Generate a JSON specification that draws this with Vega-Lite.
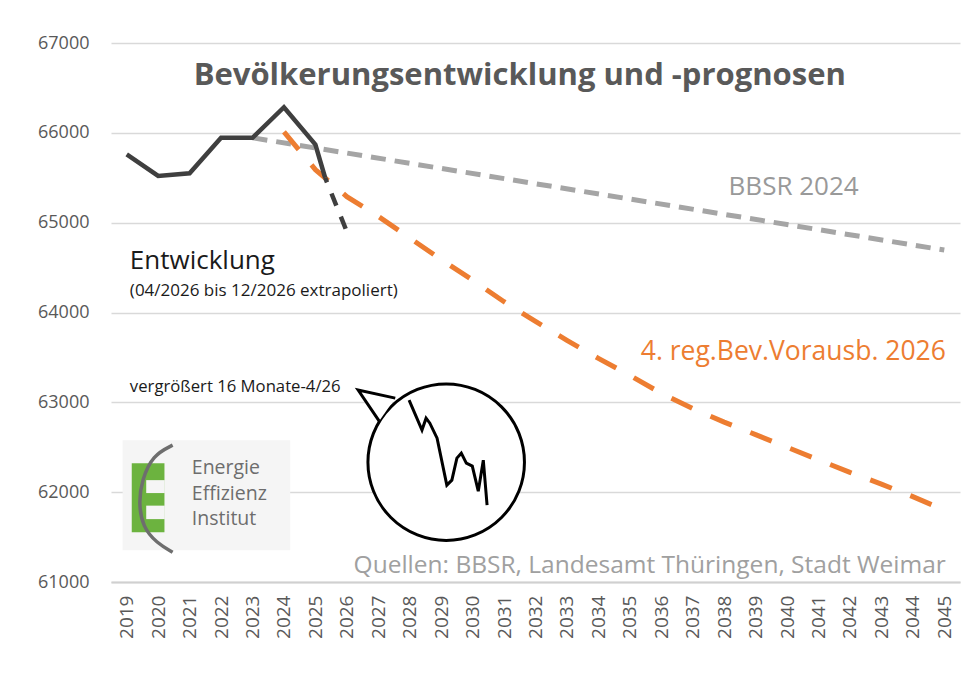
{
  "$schema": "https://vega.github.io/schema/vega-lite/v6.json",
  "width": 849,
  "height": 539,
  "autosize": {"type": "none"},
  "padding": {"left": 111, "top": 43, "right": 14, "bottom": 100},
  "background": "white",
  "config": {
    "view": {"stroke": null},
    "font": "Open Sans",
    "axis": {"labelFont": "Open Sans", "labelColor": "#595959"}
  },
  "datasets": {
    "lines": [
      {"series": "Entwicklung", "year": 2019, "value": 65760},
      {"series": "Entwicklung", "year": 2020, "value": 65520},
      {"series": "Entwicklung", "year": 2021, "value": 65550},
      {"series": "Entwicklung", "year": 2022, "value": 65945},
      {"series": "Entwicklung", "year": 2023, "value": 65945},
      {"series": "Entwicklung", "year": 2024, "value": 66285},
      {"series": "Entwicklung", "year": 2025, "value": 65870},
      {"series": "Entwicklung", "year": 2025.31, "value": 65500},
      {"series": "Extrapoliert", "year": 2025.31, "value": 65500},
      {"series": "Extrapoliert", "year": 2026, "value": 64900},
      {"series": "BBSR 2024", "year": 2023, "value": 65945},
      {"series": "BBSR 2024", "year": 2045, "value": 64695},
      {"series": "4. reg.Bev.Vorausb. 2026", "year": 2024, "value": 66010},
      {"series": "4. reg.Bev.Vorausb. 2026", "year": 2025, "value": 65590},
      {"series": "4. reg.Bev.Vorausb. 2026", "year": 2026, "value": 65290},
      {"series": "4. reg.Bev.Vorausb. 2026", "year": 2027, "value": 65070},
      {"series": "4. reg.Bev.Vorausb. 2026", "year": 2028, "value": 64830},
      {"series": "4. reg.Bev.Vorausb. 2026", "year": 2029, "value": 64590},
      {"series": "4. reg.Bev.Vorausb. 2026", "year": 2030, "value": 64360},
      {"series": "4. reg.Bev.Vorausb. 2026", "year": 2031, "value": 64120},
      {"series": "4. reg.Bev.Vorausb. 2026", "year": 2032, "value": 63900},
      {"series": "4. reg.Bev.Vorausb. 2026", "year": 2033, "value": 63690},
      {"series": "4. reg.Bev.Vorausb. 2026", "year": 2034, "value": 63490},
      {"series": "4. reg.Bev.Vorausb. 2026", "year": 2035, "value": 63300},
      {"series": "4. reg.Bev.Vorausb. 2026", "year": 2036, "value": 63100},
      {"series": "4. reg.Bev.Vorausb. 2026", "year": 2037, "value": 62930},
      {"series": "4. reg.Bev.Vorausb. 2026", "year": 2038, "value": 62780},
      {"series": "4. reg.Bev.Vorausb. 2026", "year": 2039, "value": 62640},
      {"series": "4. reg.Bev.Vorausb. 2026", "year": 2040, "value": 62500},
      {"series": "4. reg.Bev.Vorausb. 2026", "year": 2041, "value": 62360},
      {"series": "4. reg.Bev.Vorausb. 2026", "year": 2042, "value": 62220},
      {"series": "4. reg.Bev.Vorausb. 2026", "year": 2043, "value": 62090},
      {"series": "4. reg.Bev.Vorausb. 2026", "year": 2044, "value": 61950},
      {"series": "4. reg.Bev.Vorausb. 2026", "year": 2045, "value": 61800}
    ],
    "inset": [
      {"i": 1, "year": 2027.98, "value": 63025},
      {"i": 2, "year": 2028.39, "value": 62691},
      {"i": 3, "year": 2028.52, "value": 62824},
      {"i": 4, "year": 2028.64, "value": 62768},
      {"i": 5, "year": 2028.87, "value": 62601},
      {"i": 6, "year": 2029.18, "value": 62078},
      {"i": 7, "year": 2029.34, "value": 62134},
      {"i": 8, "year": 2029.5, "value": 62379},
      {"i": 9, "year": 2029.64, "value": 62434},
      {"i": 10, "year": 2029.8, "value": 62323},
      {"i": 11, "year": 2029.99, "value": 62290},
      {"i": 12, "year": 2030.18, "value": 62011},
      {"i": 13, "year": 2030.34, "value": 62356},
      {"i": 14, "year": 2030.46, "value": 61855}
    ],
    "tail": [
      {"i": 1, "year": 2027.03, "value": 62791},
      {"i": 2, "year": 2026.36, "value": 63136},
      {"i": 3, "year": 2027.54, "value": 63047}
    ],
    "arc": [
      {"i": 1, "year": 2020.46, "value": 62523},
      {"i": 2, "year": 2019.83, "value": 62412},
      {"i": 3, "year": 2019.48, "value": 62134},
      {"i": 4, "year": 2019.38, "value": 61878},
      {"i": 5, "year": 2019.51, "value": 61610},
      {"i": 6, "year": 2019.96, "value": 61432},
      {"i": 7, "year": 2020.46, "value": 61332}
    ],
    "labels": [
      {"label": "Bevölkerungsentwicklung und -prognosen", "kind": "title", "year": 2031.5, "value": 66635},
      {"label": "BBSR 2024", "kind": "bbsr", "year": 2038.14, "value": 65396},
      {"label": "4. reg.Bev.Vorausb. 2026", "kind": "reg", "year": 2045.05, "value": 63559},
      {"label": "Entwicklung", "kind": "big", "year": 2019.1, "value": 64572},
      {"label": "(04/2026 bis 12/2026 extrapoliert)", "kind": "small", "year": 2019.1, "value": 64238},
      {"label": "vergrößert 16 Monate-4/26", "kind": "small2", "year": 2019.1, "value": 63169},
      {"label": "Quellen: BBSR, Landesamt Thüringen, Stadt Weimar", "kind": "source", "year": 2045.05, "value": 61176},
      {"label": "Energie", "kind": "logo", "year": 2021.07, "value": 62265},
      {"label": "Effizienz", "kind": "logo", "year": 2021.07, "value": 61985},
      {"label": "Institut", "kind": "logo", "year": 2021.07, "value": 61705}
    ],
    "boxes": [
      {"part": "bg", "x1": 2018.87, "x2": 2024.2, "y1": 62579, "y2": 61354},
      {"part": "green", "x1": 2019.16, "x2": 2020.2, "y1": 62323, "y2": 61555},
      {"part": "slot", "x1": 2019.62, "x2": 2020.21, "y1": 62134, "y2": 61990},
      {"part": "slot", "x1": 2019.62, "x2": 2020.21, "y1": 61850, "y2": 61700}
    ],
    "bubble": [{"year": 2029.16, "value": 62334}]
  },
  "encoding": {
    "x": {
      "field": "year", "type": "quantitative",
      "scale": {"domain": [2018.5, 2045.5], "nice": false, "zero": false},
      "axis": {
        "values": [2019,2020,2021,2022,2023,2024,2025,2026,2027,2028,2029,2030,2031,2032,2033,2034,2035,2036,2037,2038,2039,2040,2041,2042,2043,2044,2045],
        "format": "d", "labelAngle": -90, "labelFontSize": 19, "labelPadding": 13,
        "ticks": false, "grid": false, "title": null,
        "domainColor": "#d0d0d0", "domainWidth": 2, "labelOverlap": false, "labelBound": false, "labelFlush": false
      }
    },
    "y": {
      "field": "value", "type": "quantitative",
      "scale": {"domain": [61000, 67000], "nice": false, "zero": false},
      "axis": {
        "values": [61000, 62000, 63000, 64000, 65000, 66000, 67000],
        "format": "d", "labelFontSize": 18, "labelPadding": 22,
        "ticks": false, "domain": false, "title": null,
        "gridColor": "#d9d9d9", "gridWidth": 1.5
      }
    }
  },
  "layer": [
    {
      "data": {"name": "boxes"},
      "transform": [{"filter": "datum.part === 'bg'"}],
      "mark": {"type": "rect", "fill": "#f5f5f5"},
      "encoding": {"x": {"field": "x1", "type": "quantitative"}, "x2": {"field": "x2"}, "y": {"field": "y1", "type": "quantitative"}, "y2": {"field": "y2"}}
    },
    {
      "data": {"name": "boxes"},
      "transform": [{"filter": "datum.part === 'green'"}],
      "mark": {"type": "rect", "fill": "#6cb33f"},
      "encoding": {"x": {"field": "x1", "type": "quantitative"}, "x2": {"field": "x2"}, "y": {"field": "y1", "type": "quantitative"}, "y2": {"field": "y2"}}
    },
    {
      "data": {"name": "boxes"},
      "transform": [{"filter": "datum.part === 'slot'"}],
      "mark": {"type": "rect", "fill": "#f5f5f5"},
      "encoding": {"x": {"field": "x1", "type": "quantitative"}, "x2": {"field": "x2"}, "y": {"field": "y1", "type": "quantitative"}, "y2": {"field": "y2"}}
    },
    {
      "data": {"name": "arc"},
      "mark": {"type": "line", "color": "#6e6e6e", "strokeWidth": 3.5, "interpolate": "basis"},
      "encoding": {"order": {"field": "i"}}
    },
    {
      "data": {"name": "lines"},
      "transform": [{"filter": "datum.series === 'BBSR 2024'"}],
      "mark": {"type": "line", "color": "#a5a5a5", "strokeWidth": 5, "strokeDash": [15, 9]},
      "encoding": {}
    },
    {
      "data": {"name": "lines"},
      "transform": [{"filter": "datum.series === '4. reg.Bev.Vorausb. 2026'"}],
      "mark": {"type": "line", "color": "#ed7d31", "strokeWidth": 5, "strokeDash": [23, 20]},
      "encoding": {}
    },
    {
      "data": {"name": "lines"},
      "transform": [{"filter": "datum.series === 'Entwicklung'"}],
      "mark": {"type": "line", "color": "#3f3f3f", "strokeWidth": 4.5, "strokeJoin": "miter"},
      "encoding": {}
    },
    {
      "data": {"name": "lines"},
      "transform": [{"filter": "datum.series === 'Extrapoliert'"}],
      "mark": {"type": "line", "color": "#3f3f3f", "strokeWidth": 4.5, "strokeDash": [13, 12], "strokeDashOffset": 8},
      "encoding": {}
    },
    {
      "data": {"name": "bubble"},
      "mark": {"type": "point", "shape": "circle", "size": 24500, "filled": false, "fill": "white", "fillOpacity": 1, "stroke": "black", "strokeWidth": 3, "opacity": 1},
      "encoding": {}
    },
    {
      "data": {"name": "tail"},
      "mark": {"type": "line", "color": "black", "fill": "white", "strokeWidth": 3, "strokeJoin": "miter"},
      "encoding": {"order": {"field": "i"}}
    },
    {
      "data": {"name": "inset"},
      "mark": {"type": "line", "color": "black", "strokeWidth": 3, "strokeJoin": "miter"},
      "encoding": {"order": {"field": "i"}}
    },
    {
      "data": {"name": "labels"},
      "transform": [{"filter": "datum.kind === 'title'"}],
      "mark": {"type": "text", "align": "center", "baseline": "middle", "fontSize": 31, "fontWeight": "bold", "color": "#595959"},
      "encoding": {"text": {"field": "label"}}
    },
    {
      "data": {"name": "labels"},
      "transform": [{"filter": "datum.kind === 'bbsr'"}],
      "mark": {"type": "text", "align": "left", "baseline": "middle", "fontSize": 26, "color": "#999999"},
      "encoding": {"text": {"field": "label"}}
    },
    {
      "data": {"name": "labels"},
      "transform": [{"filter": "datum.kind === 'reg'"}],
      "mark": {"type": "text", "align": "right", "baseline": "middle", "fontSize": 26.5, "color": "#ed7d31"},
      "encoding": {"text": {"field": "label"}}
    },
    {
      "data": {"name": "labels"},
      "transform": [{"filter": "datum.kind === 'big'"}],
      "mark": {"type": "text", "align": "left", "baseline": "middle", "fontSize": 26, "color": "#1a1a1a"},
      "encoding": {"text": {"field": "label"}}
    },
    {
      "data": {"name": "labels"},
      "transform": [{"filter": "datum.kind === 'small'"}],
      "mark": {"type": "text", "align": "left", "baseline": "middle", "fontSize": 17, "color": "#1a1a1a"},
      "encoding": {"text": {"field": "label"}}
    },
    {
      "data": {"name": "labels"},
      "transform": [{"filter": "datum.kind === 'small2'"}],
      "mark": {"type": "text", "align": "left", "baseline": "middle", "fontSize": 16.7, "color": "#1a1a1a"},
      "encoding": {"text": {"field": "label"}}
    },
    {
      "data": {"name": "labels"},
      "transform": [{"filter": "datum.kind === 'source'"}],
      "mark": {"type": "text", "align": "right", "baseline": "middle", "fontSize": 24.5, "color": "#a0a0a0"},
      "encoding": {"text": {"field": "label"}}
    },
    {
      "data": {"name": "labels"},
      "transform": [{"filter": "datum.kind === 'logo'"}],
      "mark": {"type": "text", "align": "left", "baseline": "middle", "fontSize": 19.5, "color": "#6d6d6d"},
      "encoding": {"text": {"field": "label"}}
    }
  ]
}
